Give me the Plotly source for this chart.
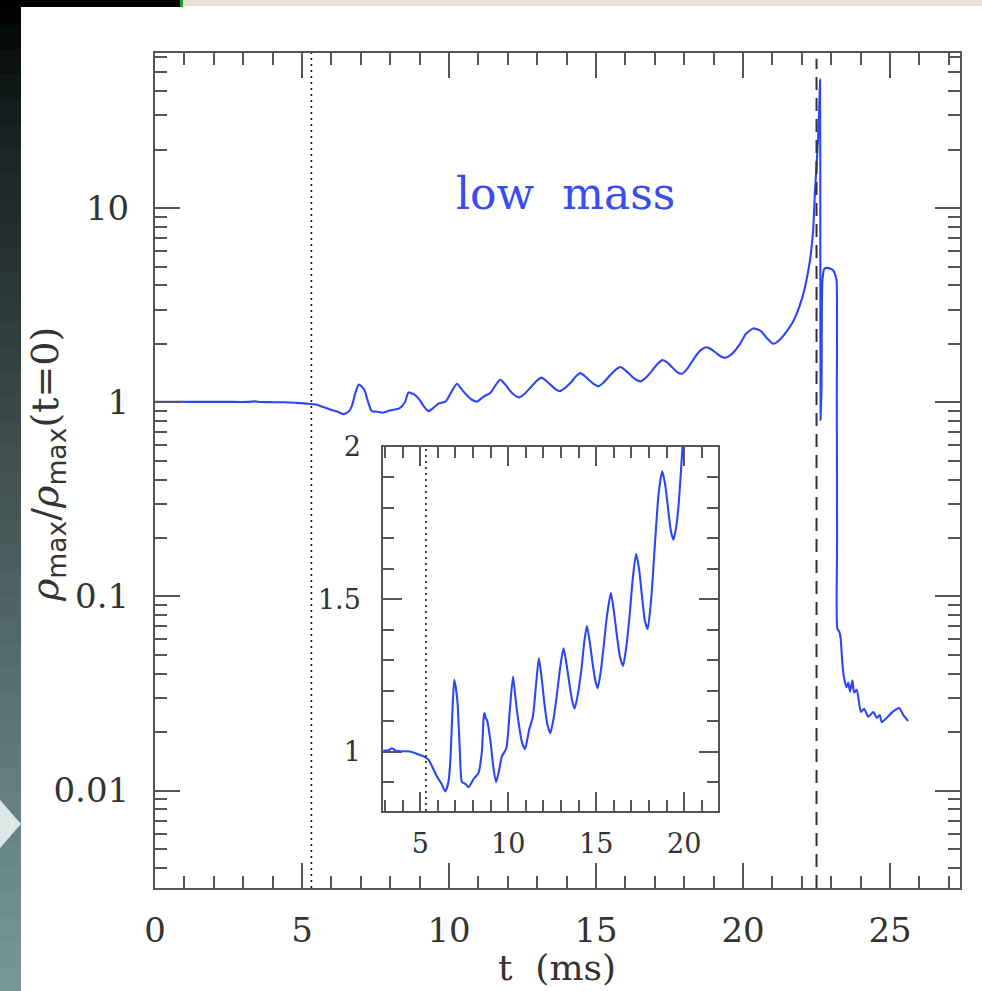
import plotly.graph_objects as go

# ---------------- data ----------------
t_ms = [0.0, 0.8, 1.6, 2.4, 2.92, 3.2, 3.39, 3.6, 4.0, 4.43, 4.8, 5.19, 5.47, 5.95, 6.2, 6.42,
        6.6, 6.70, 6.82, 6.93, 7.02, 7.12, 7.25, 7.37, 7.56, 7.74, 8.03, 8.31, 8.50, 8.60, 8.65,
        8.72, 8.79, 8.98, 9.15, 9.30, 9.45, 9.64, 9.89, 10.08, 10.27, 10.42, 10.59, 10.78, 10.95,
        11.18, 11.40, 11.58, 11.74, 11.9, 12.05, 12.22, 12.39, 12.58, 12.77, 12.96, 13.14, 13.3,
        13.47, 13.62, 13.77, 13.96, 14.15, 14.32, 14.47, 14.63, 14.79, 14.94, 15.08, 15.25, 15.42,
        15.62, 15.83, 16.0, 16.18, 16.35, 16.52, 16.7, 16.89, 17.08, 17.26, 17.43, 17.60, 17.76,
        17.92, 18.12, 18.35, 18.55, 18.75, 18.93, 19.11, 19.25, 19.39, 19.55, 19.68, 19.90, 20.1,
        20.35, 20.6, 20.8, 21.03, 21.25, 21.48, 21.7, 21.83, 22.0, 22.11, 22.2, 22.28, 22.38,
        22.45, 22.5, 22.55, 22.59, 22.62, 22.63, 22.64, 22.67, 22.70, 22.76, 22.85, 23.0, 23.07,
        23.13, 23.18, 23.19, 23.2, 23.21, 23.27, 23.32, 23.38, 23.43, 23.52, 23.58, 23.64, 23.72,
        23.78, 23.87, 24.01, 24.12, 24.26, 24.43, 24.55, 24.65, 24.72, 24.89, 25.09, 25.31, 25.45,
        25.62]
rho_ratio = [1.005, 1.006, 1.004, 1.005, 1.003, 1.004, 1.011, 1.003, 1.001, 1.0, 0.993, 0.984,
             0.973, 0.918, 0.895, 0.869, 0.90, 0.961, 1.12, 1.235, 1.21, 1.159, 1.0, 0.90, 0.894,
             0.883, 0.91, 0.93, 1.0, 1.11, 1.126, 1.11, 1.104, 1.038, 0.95, 0.90, 0.93, 0.984,
             1.011, 1.13, 1.246, 1.17, 1.093, 1.03, 1.008, 1.07, 1.115, 1.22, 1.306, 1.24, 1.159,
             1.09, 1.06, 1.11, 1.19, 1.28, 1.339, 1.29, 1.224, 1.17, 1.141, 1.19, 1.267, 1.36,
             1.412, 1.36, 1.29, 1.235, 1.208, 1.26, 1.345, 1.45, 1.52, 1.46, 1.377, 1.31, 1.281,
             1.34, 1.443, 1.57, 1.648, 1.6, 1.509, 1.43, 1.402, 1.50, 1.695, 1.85, 1.919, 1.87,
             1.782, 1.72, 1.695, 1.74, 1.81, 2.0, 2.25, 2.40, 2.33, 2.15, 2.0, 2.1, 2.31, 2.6,
             2.87, 3.4, 3.94, 4.6, 5.41, 7.5, 12.4, 16.5, 22.5, 32.0, 45.9, 8.0, 0.81, 1.2, 4.2,
             4.85, 4.92, 4.85, 4.77, 4.55, 4.26, 1.0, 0.2, 0.068, 0.066, 0.061, 0.045, 0.0385,
             0.034, 0.036, 0.0323, 0.037, 0.032, 0.033, 0.0254, 0.0264, 0.024, 0.0254, 0.0237,
             0.0245, 0.0225, 0.0237, 0.0254, 0.0266, 0.0245, 0.0228]

t_onset = 5.32       # dotted line
t_collapse = 22.5    # dashed line

x_ticks_main = [0, 5, 10, 15, 20, 25]
x_minor_main = list(range(0, 28))
y_ticks_main = [0.01, 0.1, 1, 10]
y_ticklabels_main = ["0.01", "0.1", "1", "10"]
y_minor_main = [m * 10.0 ** e for e in range(-3, 2) for m in range(2, 10)]

x_ticks_inset = [5, 10, 15, 20]
x_minor_inset = list(range(3, 22))
y_ticks_inset = [1, 1.5, 2]
y_ticklabels_inset = ["1", "1.5", "2"]
y_minor_inset = [0.9, 1.1, 1.2, 1.3, 1.4, 1.6, 1.7, 1.8, 1.9]

label_text = "low&nbsp;&nbsp;mass"

# ---------------- layout constants ----------------
W, H = 982, 991
L, R, T, B = 155, 22, 53, 103
PW, PH = W - L - R, H - T - B

def px(xp):
    return (xp - L) / PW

def py(yp):
    return (H - B - yp) / PH

LINE = "#2b46f5"
FRAME = "#555555"
TXT = "#333333"
SERIF = "DejaVu Serif"

fig = go.Figure()
fig.add_trace(go.Scatter(x=t_ms, y=rho_ratio, mode="lines",
                         line=dict(color=LINE, width=2.1, shape="spline", smoothing=0.6),
                         xaxis="x", yaxis="y", showlegend=False))
fig.add_trace(go.Scatter(x=t_ms, y=rho_ratio, mode="lines",
                         line=dict(color=LINE, width=2.1, shape="spline", smoothing=0.6),
                         xaxis="x2", yaxis="y2", showlegend=False))

axis_common = dict(showline=True, linewidth=2, linecolor=FRAME, mirror="allticks",
                   ticks="inside", tickcolor=FRAME, tickwidth=1.5, showgrid=False,
                   zeroline=False)

fig.update_layout(
    width=W, height=H,
    margin=dict(l=L, r=R, t=T, b=B, pad=0),
    paper_bgcolor="white", plot_bgcolor="white",
    font=dict(family=SERIF, color=TXT),
    xaxis=dict(domain=[0, 1], range=[0, 27.38], tickmode="array", tickvals=x_ticks_main,
               ticklen=25, tickfont=dict(size=34, family=SERIF, color=TXT),
               ticklabelstandoff=11,
               minor=dict(tickmode="array", tickvals=x_minor_main, ticks="inside", ticklen=12,
                          tickcolor=FRAME, tickwidth=1.5, showgrid=False),
               anchor="y", **axis_common),
    yaxis=dict(domain=[0, 1], type="log", range=[-2.502, 1.799], tickmode="array",
               tickvals=y_ticks_main, ticktext=y_ticklabels_main, ticklen=25,
               tickfont=dict(size=34, family=SERIF, color=TXT), ticklabelstandoff=17,
               minor=dict(tickmode="array", tickvals=y_minor_main, ticks="inside", ticklen=12,
                          tickcolor=FRAME, tickwidth=1.5, showgrid=False),
               anchor="x", **axis_common),
    xaxis2=dict(domain=[px(383.3), px(717.7)], range=[2.9, 21.9], tickmode="array",
                tickvals=x_ticks_inset, ticklen=19, tickfont=dict(size=27, family=SERIF, color=TXT),
                ticklabelstandoff=8,
                minor=dict(tickmode="array", tickvals=x_minor_inset, ticks="inside", ticklen=11,
                           tickcolor=FRAME, tickwidth=1.5, showgrid=False),
                anchor="y2", **axis_common),
    yaxis2=dict(domain=[py(811), py(446.7)], range=[0.805, 2.0], tickmode="array",
                tickvals=y_ticks_inset, ticktext=y_ticklabels_inset, ticklen=19,
                tickfont=dict(size=27, family=SERIF, color=TXT), ticklabelstandoff=15,
                minor=dict(tickmode="array", tickvals=y_minor_inset, ticks="inside", ticklen=11,
                           tickcolor=FRAME, tickwidth=1.5, showgrid=False),
                anchor="x2", **axis_common),
)

shapes = []
# reference lines
shapes.append(dict(type="line", xref="x", yref="y domain", x0=t_onset, x1=t_onset, y0=0, y1=1,
                   line=dict(color="#111111", width=1.6, dash="2px,4px")))
shapes.append(dict(type="line", xref="x", yref="y domain", x0=t_collapse, x1=t_collapse,
                   y0=0, y1=0.993, line=dict(color="#333333", width=2, dash="13px,8px")))
shapes.append(dict(type="line", xref="x2", yref="y2 domain", x0=t_onset, x1=t_onset, y0=0, y1=1,
                   line=dict(color="#111111", width=1.6, dash="2px,4px")))

# screenshot frame decoration (slide background edges)
stops = [(0, (0, 0, 0)), (120, (22, 32, 32)), (350, (50, 64, 64)), (600, (78, 100, 100)),
         (800, (100, 128, 128)), (991, (122, 152, 152))]
def col_at(y):
    for (y0, c0), (y1, c1) in zip(stops[:-1], stops[1:]):
        if y0 <= y <= y1:
            f = (y - y0) / (y1 - y0)
            return "rgb(%d,%d,%d)" % tuple(round(a + (b - a) * f) for a, b in zip(c0, c1))
    return "rgb(122,152,152)"
nseg = 40
for i in range(nseg):
    y0 = H * i / nseg
    shapes.append(dict(type="rect", xref="paper", yref="paper", x0=px(0), x1=px(21),
                       y0=py(H), y1=py(y0), line=dict(width=0),
                       fillcolor=col_at(y0 + H / nseg / 2), layer="above"))
# arrow
shapes.append(dict(type="path", xref="paper", yref="paper",
                   path="M %f,%f L %f,%f L %f,%f Z" % (px(0), py(800), px(21), py(824), px(0), py(848)),
                   fillcolor="#dfe6e6", line=dict(width=0), layer="above"))
# top strip
shapes.append(dict(type="rect", xref="paper", yref="paper", x0=px(0), x1=px(180), y0=py(7), y1=py(0),
                   fillcolor="black", line=dict(width=0), layer="above"))
shapes.append(dict(type="rect", xref="paper", yref="paper", x0=px(180), x1=px(183), y0=py(7), y1=py(0),
                   fillcolor="#22a022", line=dict(width=0), layer="above"))
shapes.append(dict(type="rect", xref="paper", yref="paper", x0=px(183), x1=px(982), y0=py(6), y1=py(0),
                   fillcolor="#e6e0d2", line=dict(width=0), layer="above"))
fig.update_layout(shapes=shapes)

annotations = [
    dict(text=label_text, xref="paper", yref="paper", x=px(565), y=py(193), showarrow=False,
         xanchor="center", yanchor="middle", font=dict(family=SERIF, size=44, color="#3a4cf0")),
    dict(text="t&nbsp;&nbsp;(ms)", xref="paper", yref="paper", x=px(557), y=py(967), showarrow=False,
         xanchor="center", yanchor="middle", font=dict(family=SERIF, size=36, color=TXT)),
    dict(text="<i>ρ</i><sub><span style=\"font-family:'DejaVu Sans'\">max</span></sub>/"
              "<i>ρ</i><sub><span style=\"font-family:'DejaVu Sans'\">max</span></sub>(t=0)",
         xref="paper", yref="paper",
         x=px(47), y=py(465), showarrow=False, textangle=-90, xanchor="center", yanchor="middle",
         font=dict(family=SERIF, size=38, color=TXT)),
]
fig.update_layout(annotations=annotations)

fig.write_html("out.html")
